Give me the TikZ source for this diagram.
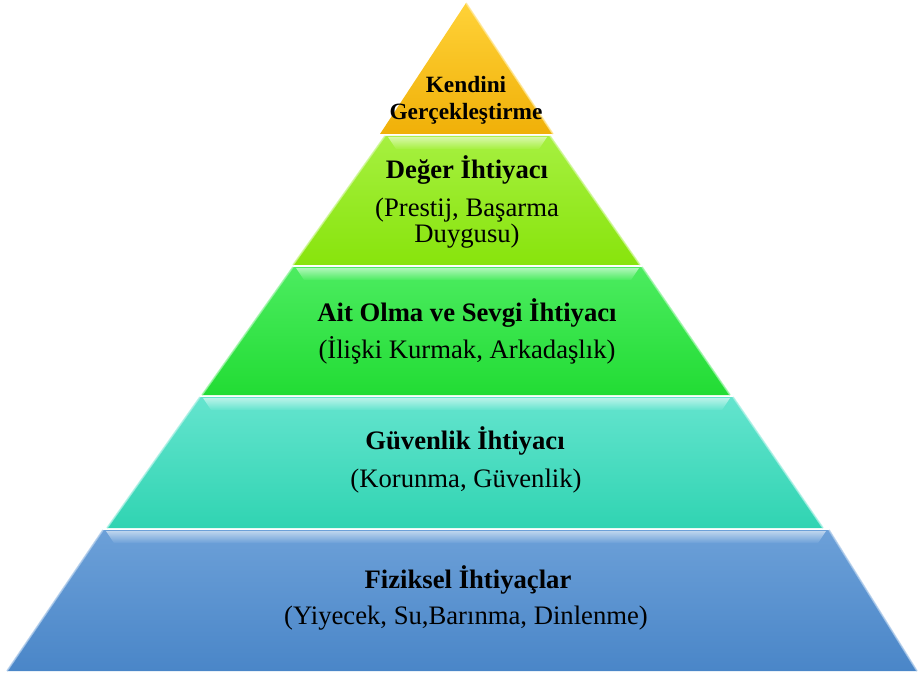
\documentclass[tikz,border=0pt]{standalone}
\usepackage{fontspec}
\setmainfont{LiberationSerif}[Extension=.ttf, UprightFont=*-Regular, BoldFont=*-Bold, ItalicFont=*-Italic, BoldItalicFont=*-BoldItalic]
\definecolor{goldtop}{RGB}{255,210,56}
\definecolor{goldbot}{RGB}{240,176,8}
\definecolor{limetop}{RGB}{166,240,64}
\definecolor{limebot}{RGB}{136,228,12}
\definecolor{greentop}{RGB}{76,236,96}
\definecolor{greenbot}{RGB}{34,220,52}
\definecolor{tealtop}{RGB}{100,228,206}
\definecolor{tealbot}{RGB}{48,212,178}
\definecolor{bluetop}{RGB}{108,160,216}
\definecolor{bluebot}{RGB}{74,134,200}
\begin{document}
\begin{tikzpicture}[x=0.75pt,y=-0.75pt,
    lbl/.style={font=\fontsize{20}{20}\selectfont, align=center, inner sep=0pt},
    ttl/.style={lbl, font=\fontsize{20}{20}\selectfont\bfseries},
    band/.style={top color=#1!45!white, bottom color=#1, draw=none},
    rim/.style={draw=#1!55!white, line width=1.2pt, opacity=0.8}]
    \useasboundingbox (0,0) rectangle (919,673);

    % blue base: Fiziksel
    \shade[top color=bluetop, bottom color=bluebot] (103,530) -- (829,530) -- (917,671) -- (7,671) -- cycle;
    \shade[band=bluetop] (106,531) -- (826,531) -- (818,543) -- (114,543) -- cycle;
    \draw[rim=bluetop] (829,530) -- (917,671);
    \draw[rim=bluetop] (103,530) -- (7,671);

    % teal: Guvenlik
    \shade[top color=tealtop, bottom color=tealbot] (200,397) -- (733,397) -- (823,528) -- (107,528) -- cycle;
    \shade[band=tealtop] (203,398) -- (730,398) -- (722,410) -- (211,410) -- cycle;
    \draw[rim=tealtop] (733,397) -- (823,528);
    \draw[rim=tealtop] (200,397) -- (107,528);

    % green: Ait Olma
    \shade[top color=greentop, bottom color=greenbot] (293,267) -- (642,267) -- (730,395) -- (202,395) -- cycle;
    \shade[band=greentop] (296,268) -- (639,268) -- (631,280) -- (304,280) -- cycle;
    \draw[rim=greentop] (642,267) -- (730,395);
    \draw[rim=greentop] (293,267) -- (202,395);

    % lime: Deger
    \shade[top color=limetop, bottom color=limebot] (385,136) -- (550,136) -- (640,265) -- (293,265) -- cycle;
    \shade[band=limetop] (388,137) -- (547,137) -- (539,149) -- (396,149) -- cycle;
    \draw[rim=limetop] (550,136) -- (640,265);
    \draw[rim=limetop] (385,136) -- (293,265);

    % gold top: Kendini Gerceklestirme
    \shade[top color=goldtop, bottom color=goldbot] (466,3) -- (553,134) -- (380,134) -- cycle;
    \draw[rim=goldtop] (466,3) -- (553,134);

    \node[ttl, font=\fontsize{17.5}{20}\selectfont\bfseries] (kendini) at (466,100) {Kendini\\Gerçekleştirme};

    \node[ttl] (deger) at (467,170) {Değer İhtiyacı};
    \node[lbl] (degersub) at (467,223) {(Prestij, Başarma\\Duygusu)};

    \node[ttl] (ait) at (467,313) {Ait Olma ve Sevgi İhtiyacı};
    \node[lbl] (aitsub) at (467,350) {(İlişki Kurmak, Arkadaşlık)};

    \node[ttl] (guven) at (465,441) {Güvenlik İhtiyacı};
    \node[lbl] (guvensub) at (466,481) {(Korunma, Güvenlik)};

    \node[ttl] (fizik) at (468,580) {Fiziksel İhtiyaçlar};
    \node[lbl] (fiziksub) at (466,618) {(Yiyecek, Su,Barınma, Dinlenme)};
\end{tikzpicture}
\end{document}
